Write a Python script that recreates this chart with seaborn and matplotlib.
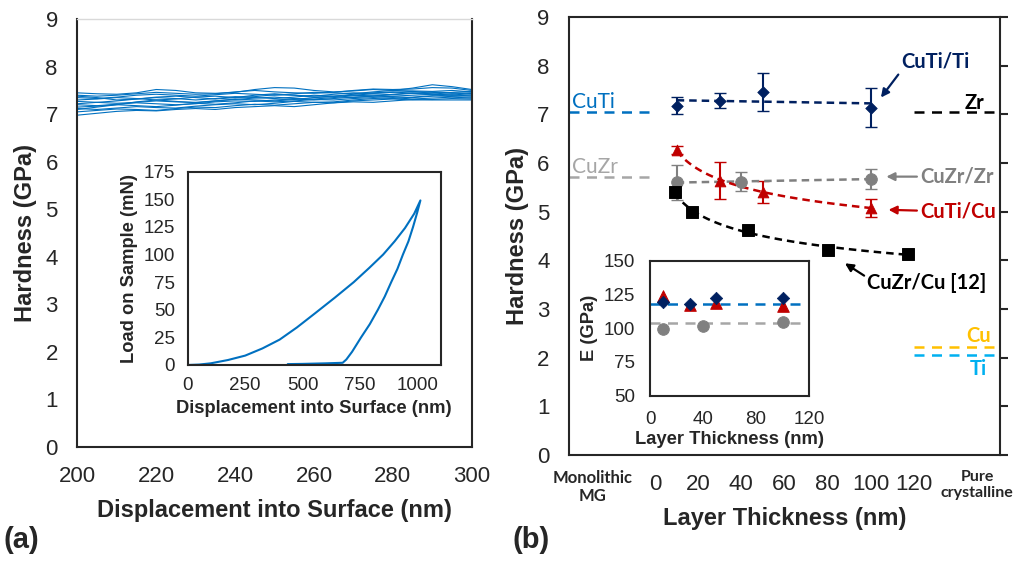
import numpy as np
import pandas as pd
import matplotlib
matplotlib.use("Agg")
import matplotlib.pyplot as plt
import matplotlib.transforms as mtransforms
import seaborn as sns

############################################################
# DATA - panel (a): hardness vs displacement, repeated indents
############################################################
depth_a = list(range(200, 301, 5))

hardness_runs = [
    [7.45, 7.43, 7.42, 7.45, 7.52, 7.50, 7.45, 7.44, 7.46, 7.52, 7.56, 7.55, 7.50, 7.47, 7.49, 7.52, 7.50, 7.55, 7.62, 7.58, 7.52],
    [7.40, 7.38, 7.40, 7.43, 7.46, 7.44, 7.42, 7.43, 7.47, 7.50, 7.47, 7.45, 7.44, 7.46, 7.50, 7.53, 7.52, 7.53, 7.56, 7.55, 7.50],
    [7.35, 7.33, 7.36, 7.40, 7.42, 7.40, 7.38, 7.41, 7.44, 7.42, 7.40, 7.43, 7.46, 7.45, 7.43, 7.47, 7.50, 7.49, 7.48, 7.50, 7.47],
    [7.30, 7.32, 7.35, 7.33, 7.30, 7.32, 7.36, 7.38, 7.35, 7.37, 7.41, 7.40, 7.38, 7.42, 7.45, 7.44, 7.46, 7.48, 7.46, 7.44, 7.45],
    [7.27, 7.25, 7.28, 7.32, 7.35, 7.33, 7.30, 7.33, 7.37, 7.35, 7.33, 7.36, 7.40, 7.38, 7.40, 7.43, 7.41, 7.44, 7.47, 7.45, 7.42],
    [7.22, 7.25, 7.23, 7.25, 7.28, 7.26, 7.25, 7.28, 7.31, 7.34, 7.36, 7.33, 7.32, 7.35, 7.39, 7.40, 7.38, 7.40, 7.42, 7.40, 7.40],
    [7.20, 7.18, 7.21, 7.24, 7.22, 7.20, 7.22, 7.26, 7.28, 7.27, 7.30, 7.32, 7.30, 7.33, 7.36, 7.38, 7.37, 7.35, 7.38, 7.41, 7.38],
    [7.15, 7.17, 7.20, 7.18, 7.16, 7.19, 7.23, 7.21, 7.24, 7.28, 7.26, 7.28, 7.31, 7.30, 7.33, 7.35, 7.33, 7.36, 7.39, 7.37, 7.36],
    [7.12, 7.10, 7.13, 7.16, 7.14, 7.13, 7.17, 7.20, 7.22, 7.20, 7.23, 7.27, 7.25, 7.26, 7.30, 7.33, 7.35, 7.32, 7.34, 7.36, 7.34],
    [7.05, 7.08, 7.11, 7.10, 7.08, 7.12, 7.15, 7.14, 7.18, 7.21, 7.19, 7.22, 7.25, 7.24, 7.28, 7.30, 7.32, 7.30, 7.31, 7.33, 7.32],
    [6.98, 7.02, 7.06, 7.08, 7.07, 7.10, 7.12, 7.10, 7.14, 7.16, 7.18, 7.16, 7.20, 7.24, 7.26, 7.25, 7.28, 7.31, 7.30, 7.30, 7.30],
    [7.10, 7.15, 7.20, 7.26, 7.30, 7.27, 7.24, 7.28, 7.32, 7.30, 7.28, 7.31, 7.35, 7.37, 7.35, 7.38, 7.42, 7.45, 7.43, 7.40, 7.44],
    [7.38, 7.35, 7.30, 7.32, 7.36, 7.38, 7.35, 7.32, 7.35, 7.40, 7.43, 7.40, 7.36, 7.38, 7.42, 7.45, 7.47, 7.44, 7.42, 7.46, 7.48],
]

# inset (a): load-displacement curve (loading, unloading, end hold)
ld_disp = [0, 50, 100, 175, 250, 325, 400, 475, 555, 640, 722, 790, 850, 900, 945, 985, 1012,
           998, 980, 960, 936, 912, 885, 857, 827, 792, 754, 715, 690, 674, 600, 500, 435]
ld_load = [0, 0.4, 1.5, 4.5, 8.5, 15, 23, 34, 47, 61, 75, 88, 100, 112, 124, 137, 149,
           138, 125, 112, 100, 87, 75, 62, 50, 37, 25, 12, 5, 2, 1.5, 1.0, 0.8]

############################################################
# DATA - panel (b): hardness vs layer thickness
############################################################
cuti_ti_t = [10, 30, 50, 100]
cuti_ti_h = [7.18, 7.28, 7.45, 7.14]
cuti_ti_err = [0.18, 0.15, 0.39, 0.40]

cuti_cu_t = [10, 30, 50, 100]
cuti_cu_h = [6.26, 5.64, 5.41, 5.08]
cuti_cu_err = [0.08, 0.38, 0.23, 0.18]

cuzr_zr_t = [10, 40, 100]
cuzr_zr_h = [5.60, 5.62, 5.67]
cuzr_zr_err = [0.36, 0.19, 0.20]

cuzr_cu_t = [9, 17, 43, 80, 117.5]
cuzr_cu_h = [5.40, 5.00, 4.63, 4.22, 4.14]

# reference hardness: monolithic MG and pure crystalline
mono_names = ["CuTi", "CuZr"]
mono_h = [7.05, 5.72]
cryst_names = ["Zr", "Cu", "Ti"]
cryst_h = [7.04, 2.22, 2.05]

# inset (b): modulus
e_cuti_ti_t = [10, 30, 50, 100]
e_cuti_ti = [119.2, 117.7, 122.1, 122.1]
e_cuti_cu_t = [10, 30, 50, 100]
e_cuti_cu = [123.8, 117.0, 118.4, 116.7]
e_cuzr_zr_t = [10, 40, 100]
e_cuzr_zr = [99.4, 101.9, 104.4]
e_ref_cuti = 117.7
e_ref_cuzr = 103.8

############################################################
# STYLE
############################################################
sns.set_style("white")
plt.rcParams['font.family'] = ['Liberation Sans', 'DejaVu Sans']
plt.rcParams['axes.linewidth'] = 1.5
plt.rcParams['xtick.major.width'] = 1.5
plt.rcParams['ytick.major.width'] = 1.5
plt.rcParams['xtick.direction'] = 'out'
plt.rcParams['ytick.direction'] = 'out'

BLUE = '#0070C0'
NAVY = '#002060'
RED = '#C00000'
GRAY = '#808080'
LGRAY = '#A6A6A6'
GOLD = '#FFC000'
CYAN = '#00B0F0'
CAL = ['Lato', 'DejaVu Sans']
LBL = 17
ANN = 14.5

fig = plt.figure(figsize=(10.2, 5.63), dpi=100)

############################################################
# PANEL (a)
############################################################
ax_a = fig.add_axes([0.0758, 0.206, 0.3867, 0.760])
df_a = pd.DataFrame(
    [(d, h, i) for i, run in enumerate(hardness_runs) for d, h in zip(depth_a, run)],
    columns=['depth', 'hardness', 'run'])
sns.lineplot(data=df_a, x='depth', y='hardness', units='run', estimator=None,
             color=BLUE, lw=0.8, ax=ax_a, legend=False)
ax_a.set_xlim(200, 300)
ax_a.set_ylim(0, 9)
ax_a.set_xticks(range(200, 301, 20))
ax_a.set_yticks(range(0, 10))
ax_a.tick_params(labelsize=16, length=6, pad=8)
ax_a.set_xlabel("Displacement into Surface (nm)", fontsize=LBL, fontweight='bold', labelpad=8)
ax_a.set_ylabel("Hardness (GPa)", fontsize=LBL, fontweight='bold', labelpad=6)
ax_a.spines['top'].set_color('#D9D9D9')
ax_a.spines['top'].set_linewidth(1.0)

# inset (a)
ax_ai = fig.add_axes([0.184, 0.3517, 0.248, 0.3433])
sns.lineplot(x=ld_disp, y=ld_load, sort=False, estimator=None, color=BLUE, lw=1.5, ax=ax_ai)
ax_ai.set_xlim(0, 1100)
ax_ai.set_ylim(0, 175)
ax_ai.set_xticks([0, 250, 500, 750, 1000])
ax_ai.set_yticks(range(0, 176, 25))
ax_ai.tick_params(labelsize=13.5, length=4, pad=5)
ax_ai.set_xlabel("Displacement into Surface (nm)", fontsize=13.2, fontweight='bold', labelpad=4)
ax_ai.set_ylabel("Load on Sample (mN)", fontsize=13.2, fontweight='bold')

############################################################
# PANEL (b)
############################################################
ax_b = fig.add_axes([0.5578, 0.1918, 0.4225, 0.778])
ax_b.set_xlim(-40, 160)
ax_b.set_ylim(0, 9)

# error bars
ax_b.errorbar(cuti_ti_t, cuti_ti_h, yerr=cuti_ti_err, fmt='none', ecolor=NAVY, elinewidth=1.5, capsize=4)
ax_b.errorbar(cuti_cu_t, cuti_cu_h, yerr=cuti_cu_err, fmt='none', ecolor=RED, elinewidth=1.5, capsize=4)
ax_b.errorbar(cuzr_zr_t, cuzr_zr_h, yerr=cuzr_zr_err, fmt='none', ecolor=GRAY, elinewidth=1.5, capsize=4)

# trend lines (linear for the flat sets, power law for the decaying sets)
def lin_fit(x, y):
    p = np.polyfit(x, y, 1)
    xs = np.linspace(min(x), max(x), 50)
    return xs, np.polyval(p, xs)

def pow_fit(x, y):
    p = np.polyfit(np.log(x), np.log(y), 1)
    xs = np.linspace(min(x), max(x), 80)
    return xs, np.exp(np.polyval(p, np.log(xs)))

for (xs, ys), c in [(lin_fit(cuti_ti_t, cuti_ti_h), NAVY),
                    (lin_fit(cuzr_zr_t, cuzr_zr_h), GRAY),
                    (pow_fit(cuti_cu_t, cuti_cu_h), RED),
                    (pow_fit(cuzr_cu_t, cuzr_cu_h), 'black')]:
    ax_b.plot(xs, ys, ls=(0, (3, 2)), color=c, lw=1.8)

sns.scatterplot(x=cuti_ti_t, y=cuti_ti_h, marker='D', s=35, color=NAVY, edgecolor=NAVY, ax=ax_b, zorder=5)
sns.scatterplot(x=cuti_cu_t, y=cuti_cu_h, marker='^', s=60, color=RED, edgecolor=RED, ax=ax_b, zorder=5)
sns.scatterplot(x=cuzr_zr_t, y=cuzr_zr_h, marker='o', s=70, color=GRAY, edgecolor=GRAY, ax=ax_b, zorder=5)
sns.scatterplot(x=cuzr_cu_t, y=cuzr_cu_h, marker='s', s=70, color='black', edgecolor='black', ax=ax_b, zorder=5)

# reference levels
for name, h, c in zip(mono_names, mono_h, [BLUE, LGRAY]):
    ax_b.plot([-40, -1], [h, h], ls=(0, (4, 3)), color=c, lw=1.8)
    ax_b.text(-38.5, h + 0.2, name, color=c, fontsize=15, family=CAL, va='center', ha='left')
for name, h, c in zip(cryst_names, cryst_h, ['black', GOLD, CYAN]):
    ax_b.plot([120, 160], [h, h], ls=(0, (4, 3)), color=c, lw=1.8, clip_on=False)
ax_b.text(148, 7.24, "Zr", color='black', fontsize=ANN, family=CAL, fontweight='bold', ha='center', va='center')
ax_b.text(150, 2.45, "Cu", color=GOLD, fontsize=ANN, family=CAL, fontweight='bold', ha='center', va='center')
ax_b.text(150, 1.76, "Ti", color=CYAN, fontsize=ANN, family=CAL, fontweight='bold', ha='center', va='center')

# series labels
arr = dict(arrowstyle='-|>', lw=1.6, mutation_scale=12, shrinkA=0, shrinkB=2)
ax_b.annotate("CuTi/Ti", xy=(104, 7.3), xytext=(114, 8.09), color=NAVY, fontsize=ANN, family=CAL,
              fontweight='bold', ha='left', va='center',
              arrowprops=dict(arr, color=NAVY, relpos=(0, 0)))
ax_b.annotate("CuZr/Zr", xy=(106, 5.72), xytext=(123, 5.72), color=GRAY, fontsize=ANN, family=CAL,
              fontweight='bold', ha='left', va='center',
              arrowprops=dict(arr, color=GRAY, relpos=(0, 0.5)))
ax_b.annotate("CuTi/Cu", xy=(107, 5.04), xytext=(123, 5.0), color=RED, fontsize=ANN, family=CAL,
              fontweight='bold', ha='left', va='center',
              arrowprops=dict(arr, color=RED, relpos=(0, 0.55)))
ax_b.annotate("CuZr/Cu [12]", xy=(87, 3.97), xytext=(98.5, 3.54), color='black', fontsize=ANN, family=CAL,
              fontweight='bold', ha='left', va='center',
              arrowprops=dict(arr, color='black', relpos=(0, 0.75)))

ax_b.set_xticks(range(-40, 161, 20))
ax_b.set_xticklabels(['', '', '0', '20', '40', '60', '80', '100', '120', '', ''])
ax_b.set_yticks(range(0, 10))
ax_b.tick_params(labelsize=16, length=6, pad=8)
ax_b.tick_params(axis='y', right=True)
ax_b.set_xlabel("Layer Thickness (nm)", fontsize=LBL, fontweight='bold', labelpad=8)
ax_b.set_ylabel("Hardness (GPa)", fontsize=LBL, fontweight='bold', labelpad=6)

trans = mtransforms.blended_transform_factory(ax_b.transData, ax_b.transAxes)
ax_b.text(-29, -0.035, "Monolithic\nMG", transform=trans, ha='center', va='top',
          fontsize=12, family=CAL, fontweight='bold', linespacing=1.15)
ax_b.text(149.5, -0.035, "Pure\ncrystalline", transform=trans, ha='center', va='top',
          fontsize=11.5, family=CAL, fontweight='bold', linespacing=1.15)

# inset (b)
ax_bi = fig.add_axes([0.6373, 0.2972, 0.1559, 0.2398])
ax_bi.axhline(e_ref_cuti, ls=(0, (4, 3)), color=BLUE, lw=1.8)
ax_bi.axhline(e_ref_cuzr, ls=(0, (4, 3)), color=LGRAY, lw=1.8)
sns.scatterplot(x=e_cuti_cu_t, y=e_cuti_cu, marker='^', s=70, color=RED, edgecolor=RED, ax=ax_bi, zorder=5)
sns.scatterplot(x=e_cuti_ti_t, y=e_cuti_ti, marker='D', s=40, color=NAVY, edgecolor=NAVY, ax=ax_bi, zorder=6)
sns.scatterplot(x=e_cuzr_zr_t, y=e_cuzr_zr, marker='o', s=70, color=GRAY, edgecolor=GRAY, ax=ax_bi, zorder=5)
ax_bi.set_xlim(0, 120)
ax_bi.set_ylim(50, 150)
ax_bi.set_xticks(range(0, 121, 20))
ax_bi.set_xticklabels(['0', '', '40', '', '80', '', '120'])
ax_bi.set_yticks(range(50, 151, 25))
ax_bi.tick_params(labelsize=13.5, length=5, pad=6)
ax_bi.set_xlabel("Layer Thickness (nm)", fontsize=13.2, fontweight='bold', labelpad=2)
ax_bi.set_ylabel("E (GPa)", fontsize=13.2, fontweight='bold')

# panel tags
fig.text(0.003, 0.04, "(a)", fontsize=21, fontweight='bold', va='center')
fig.text(0.502, 0.04, "(b)", fontsize=21, fontweight='bold', va='center')

fig.savefig("out.png", dpi=100)
